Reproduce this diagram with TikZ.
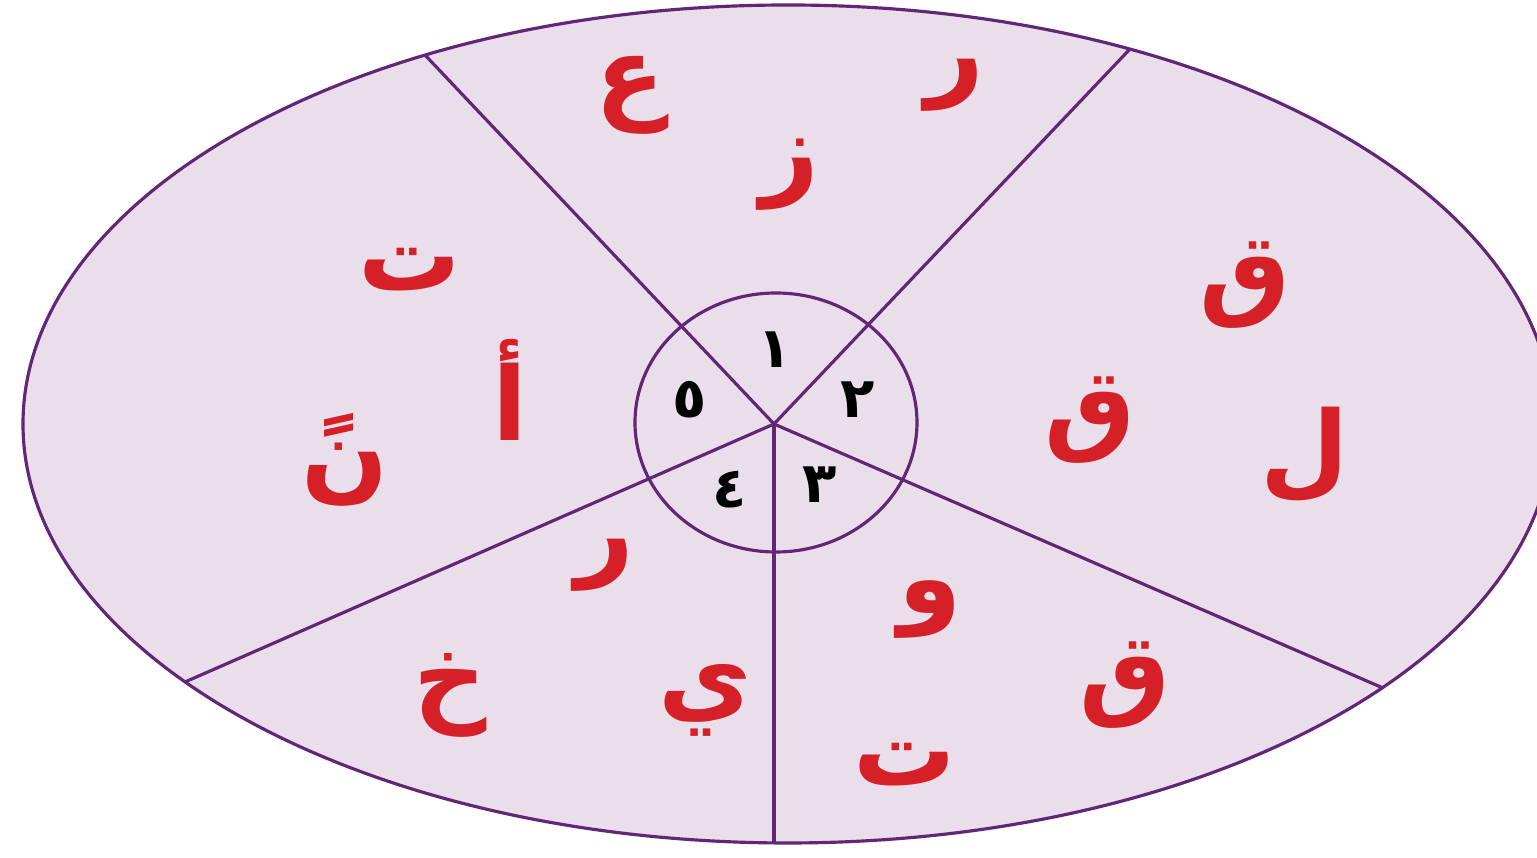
\documentclass[tikz,border=0pt]{standalone}
\usepackage{fontspec}
\newfontfamily\arabicfont[Script=Arabic]{DejaVu Sans}
\TeXXeTstate=1
\definecolor{rim}{RGB}{98,38,118}
\definecolor{pale}{RGB}{234,222,235}
\definecolor{ink}{RGB}{214,32,40}
\tikzset{
  letter/.style={text=ink, inner sep=0pt, font=\arabicfont\bfseries\fontsize{29}{29}\selectfont},
  digit/.style={text=black, inner sep=0pt, font=\arabicfont\bfseries\fontsize{16}{16}\selectfont}
}

\begin{document}
\begin{tikzpicture}[line join=round, line width=0.9pt]
	\useasboundingbox (-7.74,-4.34) rectangle (7.63,4.24);
	\path (0,0) coordinate (O)
	(0.14,0) coordinate (M)
	(0.02,0.015) coordinate (Hub)
	(-3.49,3.69) coordinate (A)
	(3.56,3.75) coordinate (B)
	(6.09,-2.64) coordinate (C)
	(0,-4.19) coordinate (D)
	(-5.89,-2.58) coordinate (E);
	
	\draw[rim, fill=pale] (M) ellipse (7.65 and 4.19);
	\foreach \p in {A,B,C,D,E}
		\draw[rim] (O) -- (\p);
	\draw[rim] (Hub) ellipse (1.41 and 1.295);
	
	% letters of the five sectors
	\foreach \x/\y/\ch/\nm in {-1.44/3.29/ع/ain, 1.81/3.39/ر/ra1, 0.16/2.49/ز/zay,
		4.71/1.39/ق/qaf1, 3.16/0.04/ق/qaf2, 5.31/-0.31/ل/lam,
		1.56/-1.86/و/waw, 3.51/-2.61/ق/qaf3, 1.31/-3.41/ت/ta1,
		-1.69/-1.41/ر/ra2, -3.24/-2.71/خ/kha, -0.69/-2.76/ي/ya,
		-3.64/1.54/ت/ta2, -2.64/0.34/أ/alif, -4.29/-0.36/نً/nun}
		\node[letter] (\nm) at (\x,\y) {\beginR\ch\endR};
	
	% sector numbers
	\foreach \x/\y/\d/\nm in {0.01/0.74/١/n1, 0.84/0.24/٢/n2, 0.46/-0.61/٣/n3,
		-0.44/-0.66/٤/n4, -0.84/0.24/٥/n5}
		\node[digit] (\nm) at (\x,\y) {\beginR\d\endR};
\end{tikzpicture}
\end{document}
